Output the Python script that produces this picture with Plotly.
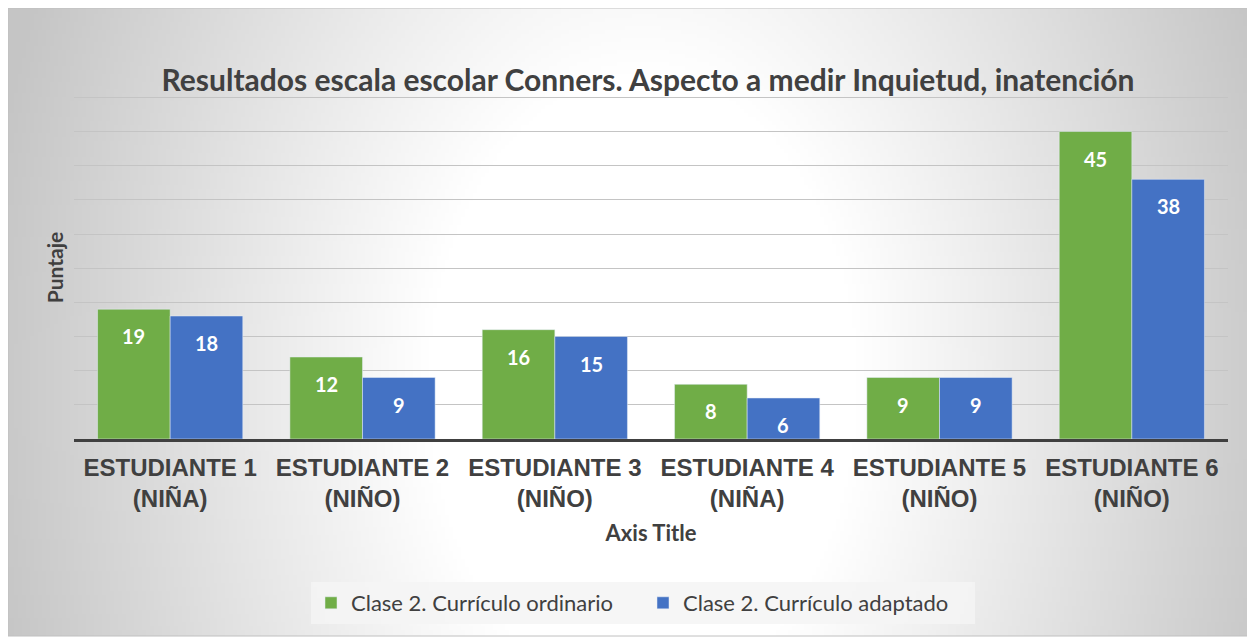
import base64, struct, zlib, math
import plotly.graph_objects as go

categories = ["ESTUDIANTE 1<br>(NIÑA)", "ESTUDIANTE 2<br>(NIÑO)", "ESTUDIANTE 3<br>(NIÑO)",
              "ESTUDIANTE 4<br>(NIÑA)", "ESTUDIANTE 5<br>(NIÑO)", "ESTUDIANTE 6<br>(NIÑO)"]
ordinario = [19, 12, 16, 8, 9, 45]
adaptado = [18, 9, 15, 6, 9, 38]
series_names = ["Clase 2. Currículo ordinario", "Clase 2. Currículo adaptado"]
title_text = "Resultados escala escolar Conners. Aspecto a medir Inquietud, inatención"

# page has an 8px body margin; work in page pixels and convert
PAGE_W, PAGE_H, OFF = 1255, 639, 8
W, H = PAGE_W - OFF, PAGE_H - OFF
PL, PR, PT, PB = 74, 1228, 96, 439          # plot area in page px
L, R, T, B = PL - OFF, PAGE_W - PR, PT - OFF, PAGE_H - PB
PW, PH = PR - PL, PB - PT
BARGAP = 0.245
YMAX = 50.2

def px2paper_x(px):
    return (px - PL) / PW

def px2paper_y(py):
    return (PB - py) / PH

def make_png(w, h):
    rows = []
    cx, cy = w * 0.51, h * 0.6
    a, b = w * 0.52, h * 1.5
    for j in range(h):
        row = bytearray([0])
        for i in range(w):
            u = math.sqrt(((i - cx) / a) ** 2 + ((j - cy) / b) ** 2)
            t = max(0.0, min(1.0, (u - 0.33) / 0.7))
            c = int(round(255 - 58 * t))
            row += bytes((c, c, c))
        rows.append(bytes(row))
    raw = b"".join(rows)
    def chunk(tag, data):
        return struct.pack(">I", len(data)) + tag + data + struct.pack(">I", zlib.crc32(tag + data) & 0xffffffff)
    png = b"\x89PNG\r\n\x1a\n" + chunk(b"IHDR", struct.pack(">IIBBBBB", w, h, 8, 2, 0, 0, 0))
    png += chunk(b"IDAT", zlib.compress(raw, 9)) + chunk(b"IEND", b"")
    return "data:image/png;base64," + base64.b64encode(png).decode()

bx0, by0, bx1, by1 = 8, 8, 1249, 636
img = make_png(311, 158)

fig = go.Figure()
fig.add_trace(go.Bar(x=categories, y=ordinario, name=series_names[0], marker_color="#70AD47"))
fig.add_trace(go.Bar(x=categories, y=adaptado, name=series_names[1], marker_color="#4472C4"))

off = (1 - BARGAP) / 4
annotations = []
for k, vals in enumerate([ordinario, adaptado]):
    sgn = -1 if k == 0 else 1
    for i, v in enumerate(vals):
        annotations.append(dict(x=i + sgn * off, y=v, xref="x", yref="y", text=str(v),
                                showarrow=False, yshift=-27,
                                font=dict(family="Lato", size=20, color="white", weight="bold")))

fig.update_layout(
    width=W, height=H,
    margin=dict(l=L, r=R, t=T, b=B),
    paper_bgcolor="white", plot_bgcolor="rgba(0,0,0,0)",
    barmode="group", bargap=BARGAP, bargroupgap=0,
    title=dict(text="<b>" + title_text + "</b>", x=(648 - OFF) / W, xanchor="center",
               y=1 - (80 - OFF) / H, yanchor="middle",
               font=dict(family="Lato", size=30, color="#404040")),
    xaxis=dict(showline=True, linecolor="#404040", linewidth=3, ticks="",
               ticklabelstandoff=5,
               tickfont=dict(family="Liberation Sans", size=24, color="#404040", weight="bold"),
               title=dict(text="<b>Axis Title</b>", standoff=15,
                          font=dict(family="Lato", size=22, color="#404040"))),
    yaxis=dict(range=[0, YMAX], dtick=5, showticklabels=False, showgrid=True,
               gridcolor="#c4c4c4", gridwidth=1, zeroline=False, showline=False,
               title=dict(text="<b>Puntaje</b>", standoff=3,
                          font=dict(family="Lato", size=21, color="#404040"))),
    legend=dict(orientation="h", x=px2paper_x(643), xanchor="center",
                y=px2paper_y(603), yanchor="middle",
                bgcolor="rgba(244,244,244,0.85)", entrywidth=287, entrywidthmode="pixels",
                font=dict(family="Lato", size=22, color="#404040")),
    annotations=annotations,
    images=[dict(source=img, xref="paper", yref="paper",
                 x=px2paper_x(bx0), y=px2paper_y(by0),
                 sizex=(bx1 - bx0) / PW, sizey=(by1 - by0) / PH,
                 xanchor="left", yanchor="top", sizing="stretch", layer="below")],
    shapes=[dict(type="rect", xref="paper", yref="paper",
                 x0=px2paper_x(bx0), x1=px2paper_x(bx1),
                 y0=px2paper_y(by1), y1=px2paper_y(by0),
                 line=dict(color="#c0c0c0", width=1), layer="below")],
    showlegend=True,
)

fig.write_html("out.html")
